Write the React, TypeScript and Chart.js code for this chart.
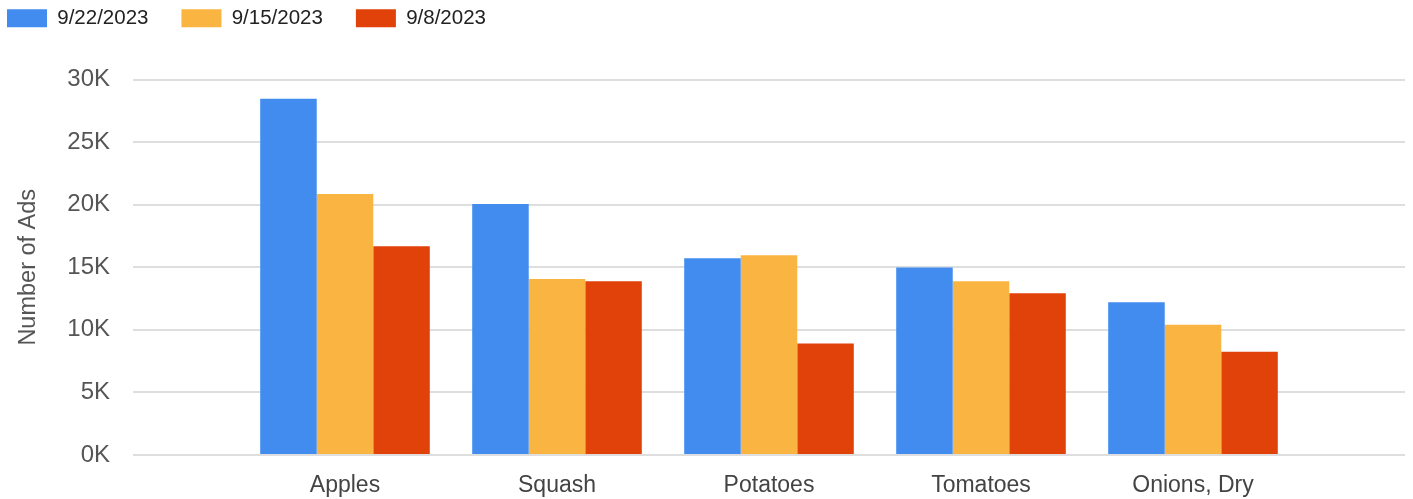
import React, { useEffect, useRef } from "react";
import { Chart, registerables } from "chart.js";

Chart.register(...registerables);

const categories = ["Apples", "Squash", "Potatoes", "Tomatoes", "Onions, Dry"];
const seriesNames = ["9/22/2023", "9/15/2023", "9/8/2023"];
const values922 = [28460, 20060, 15710, 14990, 12210];
const values915 = [20860, 14060, 15950, 13880, 10400];
const values98 = [16670, 13880, 8910, 12920, 8250];
const seriesColors = ["#428CF0", "#FAB441", "#E0420A"];
const yTicks = [0, 5000, 10000, 15000, 20000, 25000, 30000];

const FONT = "'Liberation Sans', Arial, sans-serif";

export default function App() {
  const ref = useRef<HTMLCanvasElement | null>(null);

  useEffect(() => {
    if (!ref.current) return;
    const pad = (arr: number[]) => [null, ...arr, null];
    const labels = ["", ...categories, ""];
    const legendShift = {
      id: "legendShift",
      afterLayout(chart: any) {
        const l = chart.legend;
        if (l) {
          l.left = -26;
          l.top = -25;
        }
      },
    };
    const chart = new Chart(ref.current, {
      type: "bar",
      data: {
        labels,
        datasets: [values922, values915, values98].map((v, i) => ({
          label: seriesNames[i],
          data: pad(v),
          backgroundColor: seriesColors[i],
          borderWidth: 0,
          categoryPercentage: 0.8,
          barPercentage: 1.0,
        })),
      },
      options: {
        animation: false,
        responsive: false,
        maintainAspectRatio: false,
        layout: { padding: { left: 0, right: 8, top: 16, bottom: 0 } },
        plugins: {
          tooltip: { enabled: false },
          legend: {
            position: "top",
            align: "start",
            labels: {
              boxWidth: 40,
              boxHeight: 18,
              padding: 33,
              color: "#222",
              font: { family: FONT, size: 20.5 },
            },
          },
        },
        scales: {
          x: {
            offset: false,
            grid: { display: false, drawTicks: false },
            border: { display: false },
            afterFit: (s: any) => {
              s.height = 44;
              s.paddingLeft = 0;
              s.paddingRight = 0;
            },
            ticks: {
              padding: 17,
              color: "#444",
              autoSkip: false,
              maxRotation: 0,
              font: { family: FONT, size: 23 },
            },
          },
          y: {
            min: 0,
            max: 30000,
            afterFit: (s: any) => {
              s.width = 133;
            },
            afterBuildTicks: (s: any) => {
              s.ticks = yTicks.map((v) => ({ value: v }));
            },
            grid: { color: "#dedede", lineWidth: 2, drawTicks: false },
            border: { display: false },
            ticks: {
              padding: 23,
              color: "#555",
              font: { family: FONT, size: 24 },
              callback: (v: any) => `${Number(v) / 1000}K`,
            },
            title: {
              display: true,
              text: "Number of Ads",
              color: "#555",
              font: { family: FONT, size: 23.5 },
              padding: { top: 14, bottom: 0 },
            },
          },
        },
      },
      plugins: [legendShift],
    });
    return () => chart.destroy();
  }, []);

  return (
    <div style={{ position: "fixed", left: 0, top: 0, width: 1413, height: 499, background: "#fff" }}>
      <canvas ref={ref} width={1413} height={499} style={{ width: 1413, height: 499, display: "block" }} />
    </div>
  );
}
